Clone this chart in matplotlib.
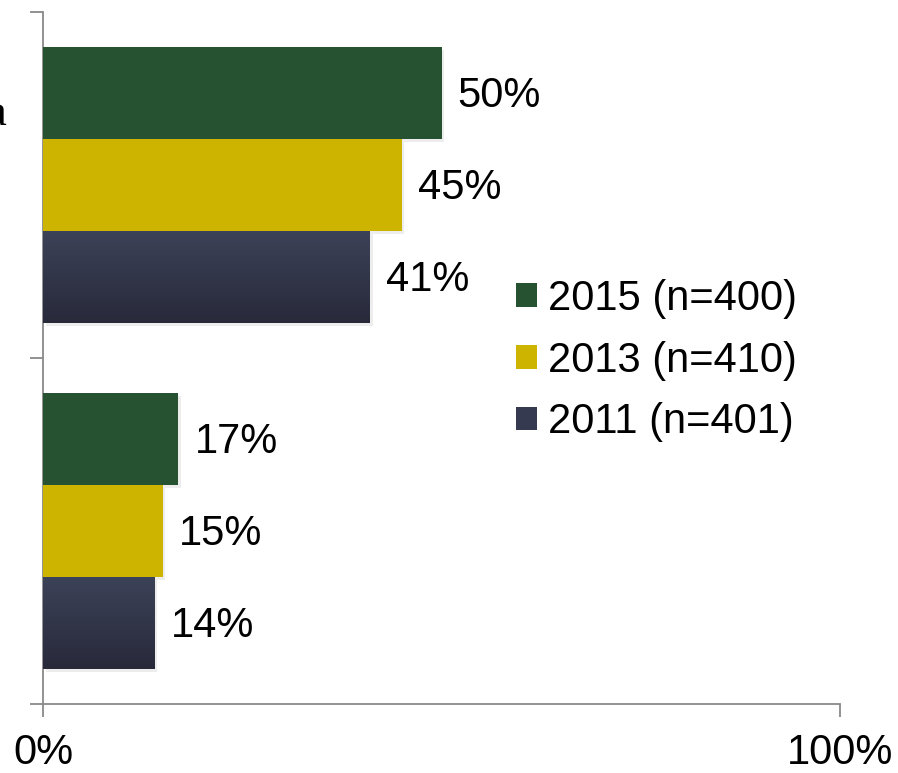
import matplotlib
matplotlib.use("Agg")
import matplotlib.pyplot as plt
import matplotlib.patheffects as pe
import numpy as np
from matplotlib.colors import LinearSegmentedColormap

plt.rcParams['font.family'] = ['Liberation Sans', 'DejaVu Sans']

categories = ["a", ""]
series = ["2015 (n=400)", "2013 (n=410)", "2011 (n=401)"]
values_2015 = [50, 17]
values_2013 = [45, 15]
values_2011 = [41, 14]
all_values = [values_2015, values_2013, values_2011]
colors = ["#265232", "#CCB400", "#363A50"]
tick_labels = ["0%", "100%"]

W, H = 898, 773
fig = plt.figure(figsize=(W / 100, H / 100), dpi=100)
ax = fig.add_axes([43 / W, (H - 704) / H, (840 - 43) / W, (704 - 12) / H])

bar_h = 0.266
offsets = [-bar_h, 0, bar_h]
y = np.arange(len(categories))

grad_cmap = LinearSegmentedColormap.from_list("g", ["#3C4258", "#282A3A"])

for si, (name, vals, col) in enumerate(zip(series, all_values, colors)):
    bars = ax.barh(y + offsets[si], vals, height=bar_h, color=col, label=name,
                   zorder=3,
                   path_effects=[pe.SimplePatchShadow(offset=(2, -2), alpha=0.10, shadow_rgbFace='#555555'),
                                 pe.Normal()])
    if si == 2:
        for b in bars:
            x0, y0 = b.get_x(), b.get_y()
            w, h = b.get_width(), b.get_height()
            grad = np.linspace(0, 1, 100).reshape(-1, 1)
            im = ax.imshow(grad, cmap=grad_cmap, aspect='auto',
                           extent=(x0, x0 + w, y0 + h, y0), zorder=4,
                           origin='upper')
            im.set_clip_path(b)
    for b, v in zip(bars, vals):
        ax.annotate(f"{v}%", xy=(b.get_width(), b.get_y() + b.get_height() / 2),
                    xytext=(16, -3), textcoords='offset pixels',
                    ha='left', va='center', fontsize=30, color='#000000', zorder=5)

ax.set_xlim(0, 100)
ax.set_ylim(len(categories) - 0.5, -0.5)

ax.set_yticks([-0.5, 0.5, 1.5])
ax.set_yticklabels([])
ax.set_xticks([0, 100])
ax.set_xticklabels(tick_labels, fontsize=30)
ax.tick_params(axis='y', direction='out', length=9.5, color='#898989', width=1.3)
ax.tick_params(axis='x', direction='out', length=9, color='#898989', width=1.3, pad=12)

for s in ['top', 'right']:
    ax.spines[s].set_visible(False)
for s in ['left', 'bottom']:
    ax.spines[s].set_color('#898989')
    ax.spines[s].set_linewidth(1.3)

# cut-off category label at the left edge
fig.text(6 / W, 1 - 114 / H, categories[0], ha='right', va='center',
         fontsize=32, family=['Liberation Serif', 'DejaVu Serif'])

leg = ax.legend(loc='upper left', bbox_to_anchor=((516 - 43) / (840 - 43), (704 - 279) / (704 - 12)),
                frameon=False, fontsize=30, handlelength=0.5, handleheight=0.5,
                handletextpad=0.28, labelspacing=0.52, borderpad=0, borderaxespad=0)
for hnd in leg.legend_handles:
    hnd.set_path_effects([])

fig.savefig("out.png", dpi=100)
